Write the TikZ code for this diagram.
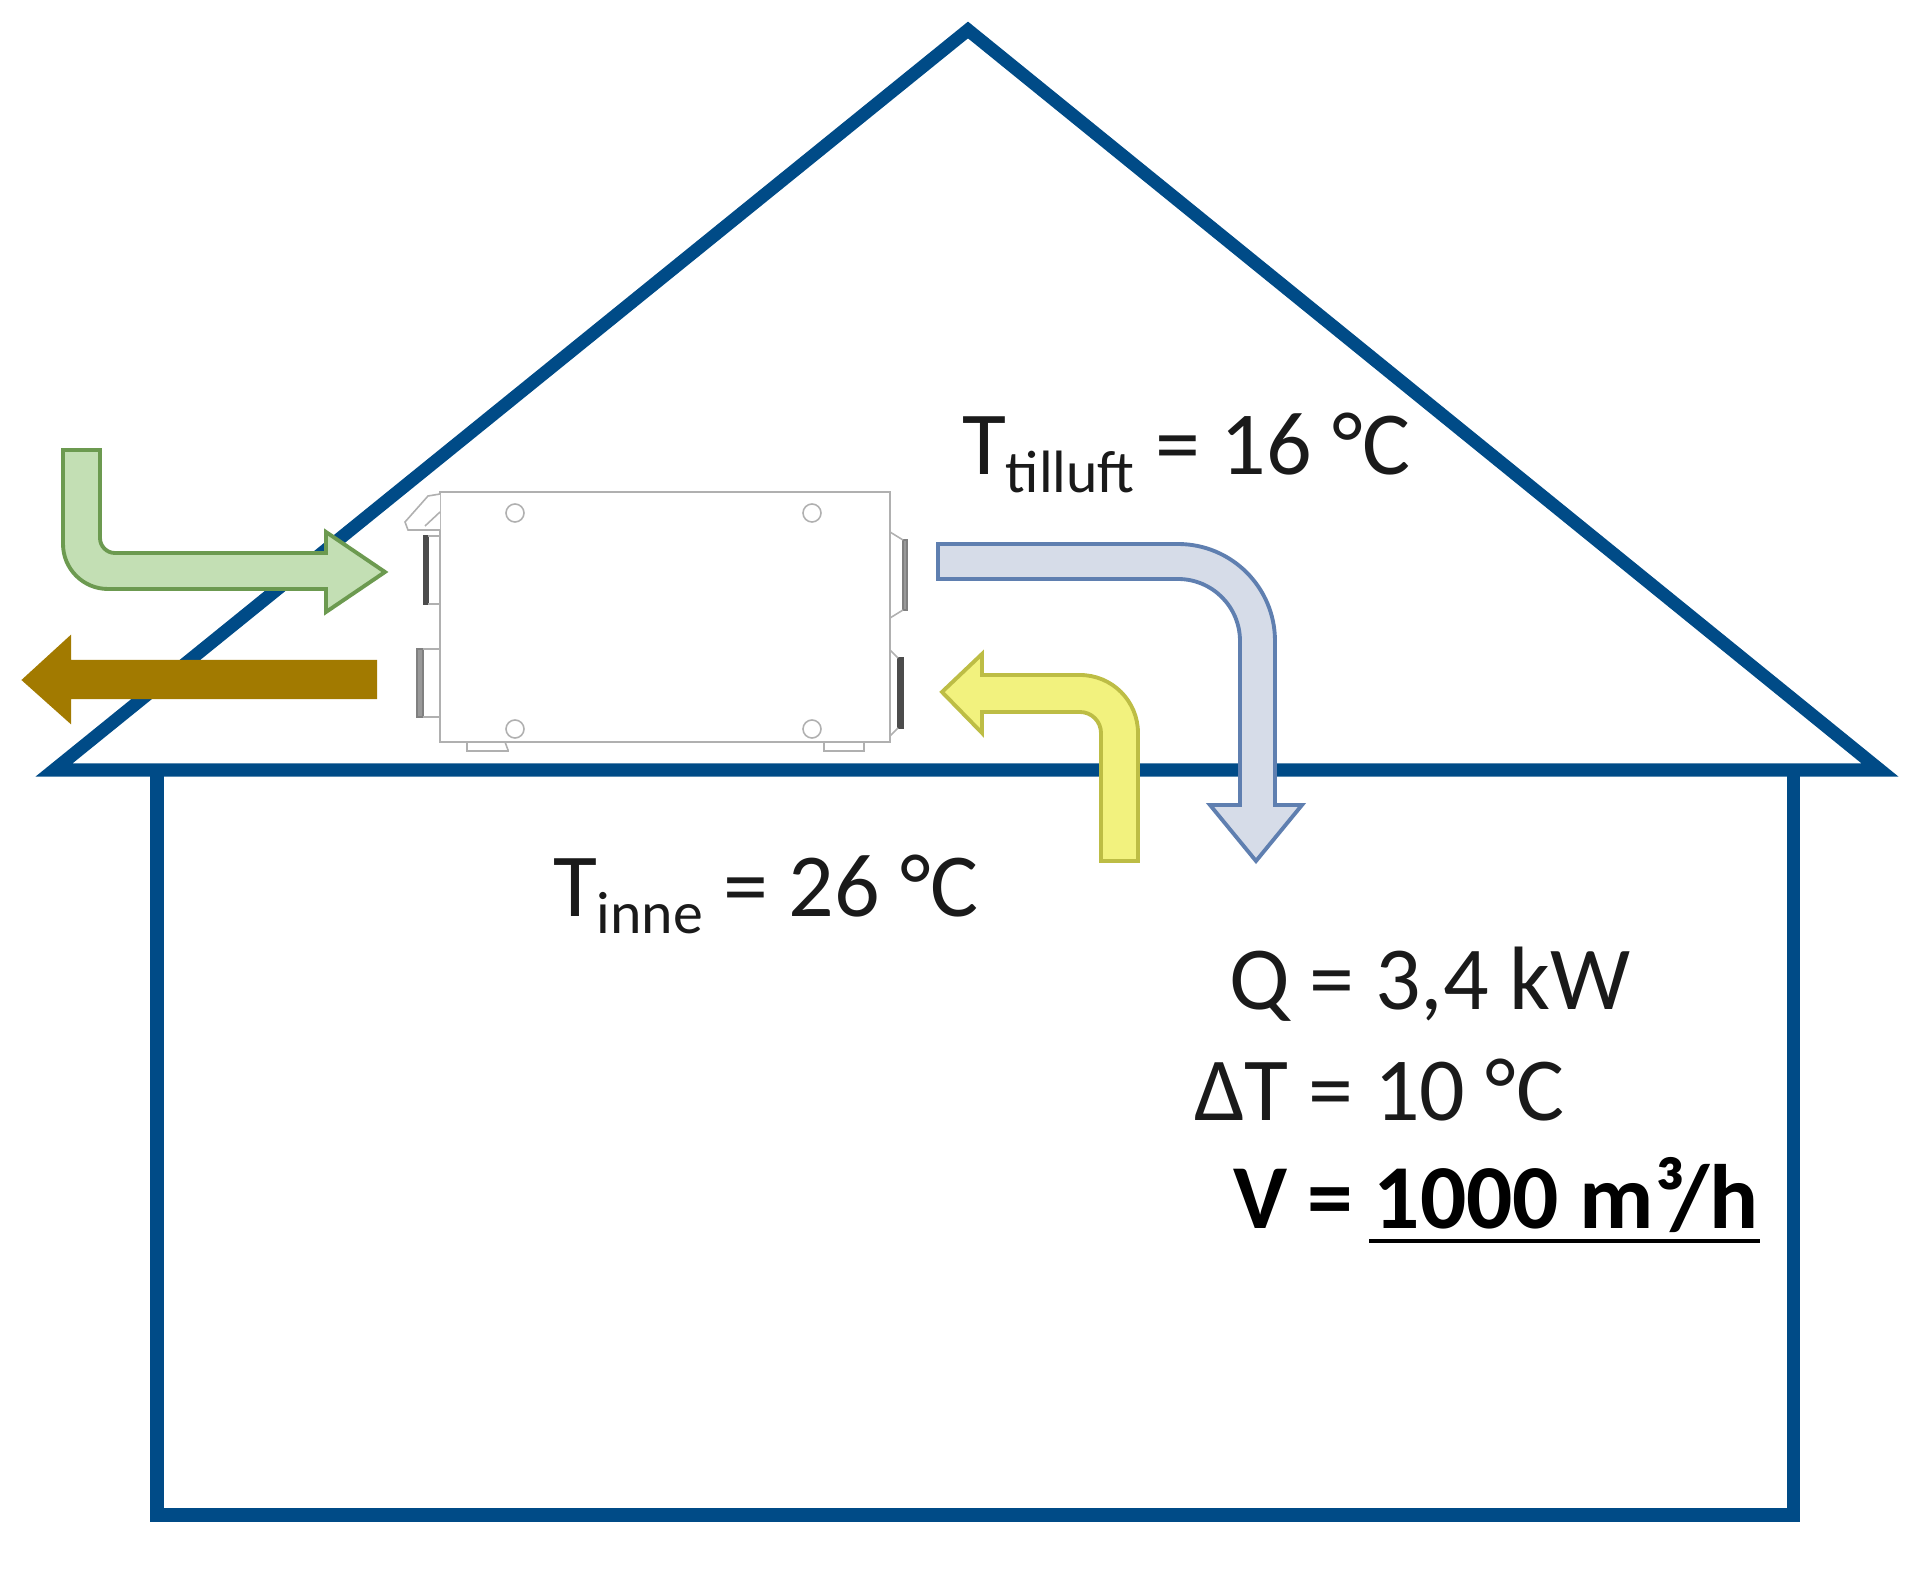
\documentclass[tikz,border=0pt]{standalone}
\usepackage{fontspec}
\setmainfont{Carlito}
\definecolor{housecol}{HTML}{004B87}
\definecolor{greenfill}{HTML}{C3DFB4}
\definecolor{greenline}{HTML}{6C9A50}
\definecolor{brownfill}{HTML}{A27A00}
\definecolor{bluefill}{HTML}{D6DCE8}
\definecolor{blueline}{HTML}{5F7FB0}
\definecolor{yellowfill}{HTML}{F2F27E}
\definecolor{yellowline}{HTML}{BDBD45}
\definecolor{unitline}{HTML}{B0B0B0}
\definecolor{txt}{HTML}{1A1A1A}
\tikzset{
  house/.style={draw=housecol,line width=3.7pt,miter limit=10},
  flow/.style={line width=1.1pt,line join=miter},
  unit/.style={draw=unitline,line width=0.45pt},
  port/.style={draw=gray,fill=gray!80,line width=0.3pt},
  portdark/.style={draw=black!70,fill=black!70,line width=0.3pt},
  label/.style={anchor=base west,inner sep=0pt,outer sep=0pt,text=txt,font=\fontsize{25.6}{30}\selectfont},
  bolded/.style={label,font=\fontsize{26}{30}\selectfont\bfseries,text=black},
}
\newcommand{\lowsub}[1]{\raisebox{-5pt}{\fontsize{17}{20}\selectfont #1}}
\begin{document}
\begin{tikzpicture}[x=0.01cm,y=-0.01cm]
\useasboundingbox (0,0) rectangle (1920,1570);
% house
\draw[house] (54,770) -- (968,30) -- (1880,770) -- cycle;
\draw[house] (157,770) -- (157,1515) -- (1793,1515) -- (1793,770);
% unit
\draw[unit] (440,492) rectangle (890,742);
\draw[unit,fill=white] (440,494) -- (428,496) -- (405,522) -- (408,530) -- (440,530);
\draw[unit] (440,512) -- (425,526);
\draw[unit] (505,742) -- (508,750) -- (508,751) -- (505,751) -- (467,751) -- (467,742);
\draw[unit] (824,742) -- (824,751) -- (864,751) -- (864,742);
\draw[unit] (515,513) circle (9);
\draw[unit] (812,513) circle (9);
\draw[unit] (515,729) circle (9);
\draw[unit] (812,729) circle (9);
\draw[portdark] (424,536) rectangle (428,604);
\draw[unit] (428,536) -- (440,536) (428,604) -- (440,604);
\draw[port] (417,649) rectangle (423,717);
\draw[unit] (423,649) -- (440,649) (423,717) -- (440,717);
\draw[port] (903,540) rectangle (907,610);
\draw[unit] (890,532) -- (903,540) (890,618) -- (903,610);
\draw[portdark] (898,658) rectangle (903,728);
\draw[unit] (890,650) -- (898,658) (890,736) -- (898,728);
% green arrow
\draw[flow,draw=greenline,fill=greenfill]
  (63,450) -- (100,450) -- (100,538) arc[start angle=180,end angle=90,radius=15] -- (326,553)
  -- (326,532) -- (385,572) -- (326,612) -- (326,589) -- (108,589)
  arc[start angle=90,end angle=180,radius=45] -- cycle;
% brown arrow
\draw[draw=brownfill,fill=brownfill,line width=0.6pt]
  (376,661) -- (70,661) -- (70,637) -- (23,680) -- (70,722) -- (70,698) -- (376,698) -- cycle;
% blue arrow
\draw[flow,draw=blueline,fill=bluefill]
  (938,544) -- (1178,544) arc[start angle=270,end angle=360,radius=97] -- (1275,805) -- (1302,805)
  -- (1256,861) -- (1210,805) -- (1240,805) -- (1240,641)
  arc[start angle=0,end angle=-90,radius=62] -- (938,579) -- cycle;
% yellow arrow
\draw[flow,draw=yellowline,fill=yellowfill]
  (942,692) -- (982,654) -- (982,675) -- (1080,675) arc[start angle=270,end angle=360,radius=58]
  -- (1138,861) -- (1101,861) -- (1101,733) arc[start angle=0,end angle=-90,radius=21]
  -- (982,712) -- (982,733) -- cycle;
% labels
\node[label] (ttill) at (962,475) {T\lowsub{tilluft} = 16 °C};
\node[label] (tinne) at (553,916) {T\lowsub{inne} = 26 °C};
\node[label] (q) at (1229,1009) {Q = 3,4 kW};
\node[label] (dt) at (1194,1120) {ΔT = 10 °C};
\node[bolded] (v) at (1233,1228) {V = 1000 m³/h};
\coordinate (ula) at (1369,1241);
\coordinate (ulb) at (1760,1241);
\draw[black,line width=1pt] (ula) -- (ulb);
\end{tikzpicture}
\end{document}
